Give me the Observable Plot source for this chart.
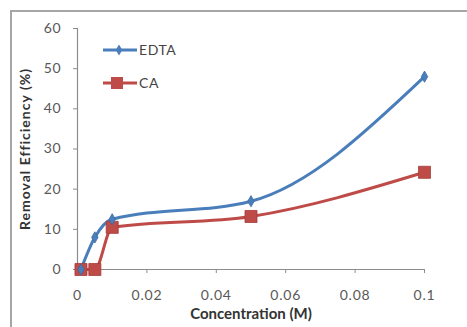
<!DOCTYPE html>
<html>
<head>
<meta charset="utf-8">
<script src="https://cdn.jsdelivr.net/npm/d3@7"></script>
<script src="https://cdn.jsdelivr.net/npm/@observablehq/plot@0.6"></script>
<style>
  html, body { margin: 0; padding: 0; background: #fff; }
  #wrap { position: relative; width: 467px; height: 327px; overflow: hidden; font-family: Lato, "Open Sans", sans-serif; }
  #frame { position: absolute; left: 10px; top: 10px; width: 480px; height: 340px; border: 2px solid #a6a6a6; box-sizing: border-box; pointer-events: none; }
  #legend { position: absolute; left: 0; top: 0; }
</style>
</head>
<body>
<div id="wrap"><div id="frame"></div></div>
<script>
const concentrations = [0.001, 0.005, 0.01, 0.05, 0.1];
const edtaValues = [0, 8, 12.5, 17, 48];
const caValues = [0, 0, 10.5, 13.2, 24.2];
const seriesNames = ["EDTA", "CA"];
const seriesColors = ["#4a7ebb", "#be4b48"];
const xTicks = [0, 0.02, 0.04, 0.06, 0.08, 0.1];
const yTicks = [0, 10, 20, 30, 40, 50, 60];

const edta = concentrations.map((c, i) => ({x: c, y: edtaValues[i]}));
const ca = concentrations.map((c, i) => ({x: c, y: caValues[i]}));

const axisColor = "#8c8c8c";
const textColor = "#595959";

const chart = Plot.plot({
  width: 467,
  height: 327,
  marginLeft: 77,
  marginRight: 43,
  marginTop: 28,
  marginBottom: 58,
  style: {fontFamily: "Lato, 'Open Sans', sans-serif", background: "transparent", overflow: "visible"},
  x: {domain: [0, 0.1]},
  y: {domain: [0, 60]},
  marks: [
    Plot.ruleY([0], {stroke: axisColor, strokeWidth: 1.2}),
    Plot.ruleX([0], {stroke: axisColor, strokeWidth: 1.2}),
    Plot.axisY({ticks: yTicks, tickSize: 4, tickPadding: 12, stroke: axisColor, fill: textColor, fontSize: 14, label: null}),
    Plot.axisX({ticks: xTicks, tickSize: 4, tickPadding: 17, stroke: axisColor, fill: textColor, fontSize: 14,
      tickFormat: d => String(+d.toFixed(2)), label: null}),
    Plot.text(["Concentration (M)"], {frameAnchor: "bottom", dy: 49, fontSize: 15, fontWeight: "bold", fill: "#333"}),
    Plot.text(["Removal Efficiency (%)"], {frameAnchor: "left", textAnchor: "middle", dx: -52, rotate: -90, fontSize: 14, fontWeight: "bold", fill: "#333"}),
    Plot.line(ca, {x: "x", y: "y", stroke: seriesColors[1], strokeWidth: 3, curve: "monotone-x"}),
    Plot.line(edta, {x: "x", y: "y", stroke: seriesColors[0], strokeWidth: 3, curve: "monotone-x"}),
    Plot.dot(ca, {x: "x", y: "y", symbol: "square", r: 6.8, fill: seriesColors[1], stroke: "#a33e3b", strokeWidth: 0.8}),
    Plot.dot(edta, {x: "x", y: "y", symbol: "diamond", r: 3.4, fill: seriesColors[0], stroke: "#3d6aa3", strokeWidth: 0.8})
  ]
});
chart.querySelectorAll("[aria-label='x-axis tick label'], [aria-label='y-axis tick label']").forEach(g => {
  g.setAttribute("letter-spacing", "0.8px");
});
chart.querySelectorAll("text").forEach(t => {
  if (t.textContent === "Removal Efficiency (%)") t.setAttribute("letter-spacing", "1px");
});
const wrap = document.getElementById("wrap");
wrap.insertBefore(chart, wrap.firstChild);

// legend overlay
const ns = "http://www.w3.org/2000/svg";
const leg = document.createElementNS(ns, "svg");
leg.setAttribute("id", "legend");
leg.setAttribute("width", 467);
leg.setAttribute("height", 327);
seriesNames.forEach((name, i) => {
  const y = 50 + i * 33;
  const g = document.createElementNS(ns, "g");
  const line = document.createElementNS(ns, "line");
  line.setAttribute("x1", 103); line.setAttribute("x2", 137);
  line.setAttribute("y1", y); line.setAttribute("y2", y);
  line.setAttribute("stroke", seriesColors[i]); line.setAttribute("stroke-width", 3);
  g.appendChild(line);
  const m = document.createElementNS(ns, "path");
  m.setAttribute("d", i === 0 ? d3.symbol(d3.symbolDiamond, 3.4 * 3.4 * Math.PI)() : d3.symbol(d3.symbolSquare, 6.8 * 6.8 * Math.PI)());
  m.setAttribute("transform", `translate(${i === 0 ? 119 : 117},${y})`);
  m.setAttribute("fill", seriesColors[i]);
  g.appendChild(m);
  const t = document.createElementNS(ns, "text");
  t.setAttribute("x", 139); t.setAttribute("y", y);
  t.setAttribute("dy", "0.35em");
  t.setAttribute("font-size", 14);
  t.setAttribute("letter-spacing", "0.6px");
  t.setAttribute("fill", "#444");
  t.setAttribute("font-family", "Lato, 'Open Sans', sans-serif");
  t.textContent = name;
  g.appendChild(t);
  leg.appendChild(g);
});
wrap.appendChild(leg);
</script>
</body>
</html>
